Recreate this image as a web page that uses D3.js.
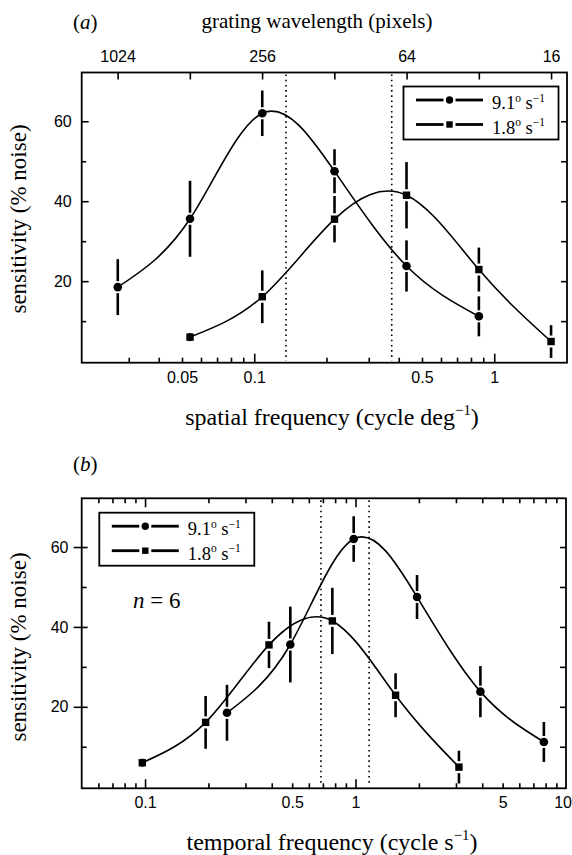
<!DOCTYPE html>
<html>
<head>
<meta charset="utf-8">
<script src="https://cdn.jsdelivr.net/npm/d3@7"></script>
<style>
  body { margin: 0; background: #fff; }
</style>
</head>
<body>
<svg id="fig" width="572" height="855"></svg>
<script>

// values
const speedLabels = [ "9.1", "1.8" ];
const spatialFast = [ 0.027, 0.054, 0.108, 0.216, 0.431, 0.863 ];
const spatialSlow = [ 0.054, 0.108, 0.216, 0.431, 0.863, 1.725 ];
const temporalFast = [ 0.245, 0.49, 0.98, 1.96, 3.92, 7.85 ];
const temporalSlow = [ 0.097, 0.194, 0.388, 0.776, 1.55, 3.1 ];
const sensFast = [ 18.5, 35.6, 62.0, 47.5, 23.8, 11.2 ];
const sensSlow = [ 6.0, 16.1, 35.5, 41.5, 22.9, 4.9 ];
const errFast = [ 7, 9.5, 5.7, 5.5, 6.4, 5 ];
const errSlow = [ 1, 6.6, 5.8, 8.3, 5.5, 4.1 ];
const peaksSpatial = [ 0.1356, 0.374 ];
const peaksTemporal = [ 0.685, 1.16 ];
const wavelengthTicks = [ 1024, 512, 256, 128, 64, 32, 16 ];
const wavelengthLabels = [ 1024, 256, 64, 16 ];
const yMajor = [ 20, 40, 60 ];
const yMinor = [ 10, 30, 50 ];
const yAll = [ 10, 20, 30, 40, 50, 60 ];
const cyclePixels = 27.6;   // wavelength (pixels) x spatial frequency

const serif = '"Liberation Serif","Times New Roman",serif';
const sans = '"Liberation Sans",Arial,sans-serif';
const yDomain = [ -0.4, 72.2 ];

const svg = d3.select( "#fig" );

function richText( t, parts, fs ) {
  let up = false;
  parts.forEach( ( [ s, sup ] ) => {
    const ts = t.append( "tspan" ).text( s );
    if( sup ) {
      ts.attr( "font-size", fs * 0.62 );
      if( !up ) { ts.attr( "dy", -fs * 0.42 ); up = true; }
    } else if( up ) {
      ts.attr( "dy", fs * 0.42 );
      up = false;
    }
  } );
}

function cleanAxis( g ) {
  g.select( ".domain" ).remove();
  g.attr( "font-family", sans ).attr( "font-size", 16 );
  g.selectAll( "line" ).attr( "stroke", "#000" ).attr( "stroke-width", 1.6 );
  g.selectAll( "text" ).attr( "fill", "#000" );
}

function marker( g, kind, cx, cy, big ) {
  if( kind === "circle" ) {
    g.append( "circle" )
      .attr( "cx", cx ).attr( "cy", cy )
      .attr( "r", big ? 4.3 : 3.7 )
      .attr( "fill", "#000" );
  } else {
    const s = big ? 7.4 : 6.4;
    g.append( "rect" )
      .attr( "x", cx - s / 2 ).attr( "y", cy - s / 2 )
      .attr( "width", s ).attr( "height", s )
      .attr( "fill", "#000" );
  }
}

function drawPanel( p ) {

  const x = d3.scaleLog().domain( p.xDomain ).range( [ p.left, p.right ] );
  const y = d3.scaleLinear().domain( yDomain ).range( [ p.bottom, p.top ] );
  const g = svg.append( "g" );

  const inside = x.ticks().filter( v => x( v ) > p.left + 6 && x( v ) < p.right - 6 );
  const isDecade = v => Math.abs( Math.log10( v ) - Math.round( Math.log10( v ) ) ) < 1e-6;
  const majorX = inside.filter( isDecade );
  const minorX = inside.filter( v => !isDecade( v ) );

  // bottom axis
  g.append( "g" ).attr( "transform", `translate(0,${ p.bottom })` )
    .call( d3.axisBottom( x ).tickValues( minorX ).tickSize( -5 ).tickFormat( "" ) ).call( cleanAxis );
  g.append( "g" ).attr( "transform", `translate(0,${ p.bottom })` )
    .call( d3.axisBottom( x ).tickValues( majorX ).tickSize( -9 ).tickFormat( "" ) ).call( cleanAxis );
  const bl = g.append( "g" ).attr( "transform", `translate(0,${ p.bottom })` )
    .call( d3.axisBottom( x ).tickValues( p.xLabels ).tickSize( 0 ).tickPadding( p.xPad )
      .tickFormat( d3.format( "~g" ) ) ).call( cleanAxis );

  // keep the last label inside the page
  bl.selectAll( "text" )
    .filter( d => x( d ) + 9 > 572 )
      .attr( "text-anchor", "end" )
      .attr( "x", d => 571.5 - x( d ) );

  // top axis
  if( p.wavelength ) {
    const xw = d3.scaleLog()
      .domain( [ cyclePixels / p.xDomain[ 0 ], cyclePixels / p.xDomain[ 1 ] ] )
      .range( [ p.left, p.right ] );
    g.append( "g" ).attr( "transform", `translate(0,${ p.top })` )
      .call( d3.axisTop( xw ).tickValues( wavelengthTicks ).tickSize( -7 ).tickPadding( 10.5 )
        .tickFormat( d => wavelengthLabels.includes( d ) ? d : "" ) ).call( cleanAxis );
  } else {
    g.append( "g" ).attr( "transform", `translate(0,${ p.top })` )
      .call( d3.axisTop( x ).tickValues( minorX ).tickSize( -5 ).tickFormat( "" ) ).call( cleanAxis );
    g.append( "g" ).attr( "transform", `translate(0,${ p.top })` )
      .call( d3.axisTop( x ).tickValues( majorX ).tickSize( -9 ).tickFormat( "" ) ).call( cleanAxis );
  }

  // left axis
  if( p.crossTicks ) {
    g.append( "g" ).attr( "transform", `translate(${ p.left },0)` )
      .call( d3.axisLeft( y ).tickValues( yMajor ).tickSize( 8 ).tickFormat( "" ) ).call( cleanAxis );
    g.append( "g" ).attr( "transform", `translate(${ p.left },0)` )
      .call( d3.axisLeft( y ).tickValues( yMajor ).tickSize( -6 ).tickFormat( "" ) ).call( cleanAxis );
    g.append( "g" ).attr( "transform", `translate(${ p.left },0)` )
      .call( d3.axisLeft( y ).tickValues( yMinor ).tickSize( -5 ).tickFormat( "" ) ).call( cleanAxis );
  } else {
    g.append( "g" ).attr( "transform", `translate(${ p.left },0)` )
      .call( d3.axisLeft( y ).tickValues( yMajor ).tickSize( -7 ).tickFormat( "" ) ).call( cleanAxis );
    g.append( "g" ).attr( "transform", `translate(${ p.left },0)` )
      .call( d3.axisLeft( y ).tickValues( yMinor ).tickSize( -4.5 ).tickFormat( "" ) ).call( cleanAxis );
  }
  g.append( "g" ).attr( "transform", `translate(${ p.left },0)` )
    .call( d3.axisLeft( y ).tickValues( yMajor ).tickSize( 0 ).tickPadding( p.yPad ) ).call( cleanAxis );

  // right axis
  g.append( "g" ).attr( "transform", `translate(${ p.right },0)` )
    .call( d3.axisRight( y ).tickValues( yAll ).tickSize( -6 ).tickFormat( "" ) ).call( cleanAxis );

  // frame
  g.append( "rect" )
    .attr( "x", p.left ).attr( "y", p.top )
    .attr( "width", p.right - p.left ).attr( "height", p.bottom - p.top )
    .attr( "fill", "none" ).attr( "stroke", "#000" ).attr( "stroke-width", 1.8 );

  // dotted peak lines
  g.selectAll( "line.peak" )
    .data( p.peaks )
    .enter().append( "line" )
      .attr( "class", "peak" )
      .attr( "x1", d => x( d ) ).attr( "x2", d => x( d ) )
      .attr( "y1", p.top + 2 ).attr( "y2", p.bottom - 2 )
      .attr( "stroke", "#000" ).attr( "stroke-width", 1.6 )
      .attr( "stroke-dasharray", "1.6,3.6" );

  const series = [
    { kind: "circle", f: p.fast, s: sensFast, e: errFast },
    { kind: "square", f: p.slow, s: sensSlow, e: errSlow }
  ];

  const line = d3.line()
    .x( d => x( d[ 0 ] ) )
    .y( d => y( d[ 1 ] ) )
    .curve( d3.curveNatural );

  series.forEach( sr => {

    const pts = sr.f.map( ( f, i ) => [ f, sr.s[ i ], sr.e[ i ] ] );

    g.append( "path" )
      .attr( "d", line( pts ) )
      .attr( "fill", "none" )
      .attr( "stroke", "#000" )
      .attr( "stroke-width", 1.6 );

    pts.forEach( d => {
      const cx = x( d[ 0 ] ), cy = y( d[ 1 ] );
      const top = y( d[ 1 ] + d[ 2 ] ), bot = y( d[ 1 ] - d[ 2 ] );
      const gap = 6;
      const segs = ( cy - top > gap + 1 ) ? [ [ top, cy - gap ], [ cy + gap, bot ] ] : [ [ top, bot ] ];
      segs.forEach( s => {
        g.append( "line" )
          .attr( "x1", cx ).attr( "x2", cx )
          .attr( "y1", s[ 0 ] ).attr( "y2", s[ 1 ] )
          .attr( "stroke", "#000" ).attr( "stroke-width", 2.6 );
      } );
      marker( g, sr.kind, cx, cy, true );
    } );

  } );

  // legend
  const lg = g.append( "g" ).attr( "transform", `translate(${ p.legend[ 0 ] },${ p.legend[ 1 ] })` );
  lg.append( "rect" )
    .attr( "width", 155 ).attr( "height", 53 )
    .attr( "fill", "#fff" ).attr( "stroke", "#000" ).attr( "stroke-width", 1.8 );
  [ "circle", "square" ].forEach( ( k, i ) => {
    const ly = 13.5 + i * 24.5;
    lg.append( "line" ).attr( "x1", 12.5 ).attr( "x2", 40 ).attr( "y1", ly ).attr( "y2", ly )
      .attr( "stroke", "#000" ).attr( "stroke-width", 2.8 );
    lg.append( "line" ).attr( "x1", 52 ).attr( "x2", 79.5 ).attr( "y1", ly ).attr( "y2", ly )
      .attr( "stroke", "#000" ).attr( "stroke-width", 2.8 );
    marker( lg, k, 46, ly, false );
    const t = lg.append( "text" )
      .attr( "x", 88.5 ).attr( "y", ly + 9.3 )
      .attr( "font-family", serif ).attr( "font-size", 18.5 );
    richText( t, [ [ speedLabels[ i ], false ], [ "o", true ], [ " s", false ], [ "\u22121", true ] ], 18.5 );
  } );

  // y label
  g.append( "text" )
    .attr( "transform", `translate(26,${ p.yLabelY }) rotate(-90)` )
    .attr( "text-anchor", "middle" )
    .attr( "font-family", serif ).attr( "font-size", 23 )
    .text( "sensitivity (% noise)" );

  // x label
  const xl = g.append( "text" )
    .attr( "x", 332 ).attr( "y", p.xLabelY )
    .attr( "text-anchor", "middle" )
    .attr( "font-family", serif ).attr( "font-size", 24 );
  richText( xl, p.xLabel, 24 );

  // panel letter
  const pl = g.append( "text" )
    .attr( "x", 73 ).attr( "y", p.letterY )
    .attr( "font-family", serif ).attr( "font-size", 21 );
  pl.append( "tspan" ).text( "(" );
  pl.append( "tspan" ).attr( "font-style", "italic" ).text( p.letter );
  pl.append( "tspan" ).text( ")" );

  return { x, y, g };
}

drawPanel( {
  left: 81.7, right: 567, top: 72.5, bottom: 362.7,
  xDomain: [ 0.0191, 2.01 ],
  xLabels: [ 0.05, 0.1, 0.5, 1 ], xPad: 9.4, yPad: 10,
  wavelength: true, crossTicks: false,
  fast: spatialFast, slow: spatialSlow, peaks: peaksSpatial,
  legend: [ 403.5, 86.5 ],
  yLabelY: 219, xLabelY: 425,
  xLabel: [ [ "spatial frequency (cycle deg", false ], [ "\u22121", true ], [ ")", false ] ],
  letter: "a", letterY: 29
} );

const pb = drawPanel( {
  left: 81.7, right: 566, top: 498.3, bottom: 788.3,
  xDomain: [ 0.05, 10 ],
  xLabels: [ 0.1, 0.5, 1, 5, 10 ], xPad: 8.3, yPad: 13.2,
  wavelength: false, crossTicks: true,
  fast: temporalFast, slow: temporalSlow, peaks: peaksTemporal,
  legend: [ 99.3, 512.7 ],
  yLabelY: 647, xLabelY: 850,
  xLabel: [ [ "temporal frequency (cycle s", false ], [ "\u22121", true ], [ ")", false ] ],
  letter: "b", letterY: 471
} );

// grating wavelength title
svg.append( "text" )
  .attr( "x", 317 ).attr( "y", 28 )
  .attr( "text-anchor", "middle" )
  .attr( "font-family", serif ).attr( "font-size", 21 )
  .text( "grating wavelength (pixels)" );

// n = 6
const nt = pb.g.append( "text" )
  .attr( "x", 133 ).attr( "y", 607.5 )
  .attr( "font-family", serif ).attr( "font-size", 23 );
nt.append( "tspan" ).attr( "font-style", "italic" ).text( "n" );
nt.append( "tspan" ).text( " = 6" );

</script>
</body>
</html>
